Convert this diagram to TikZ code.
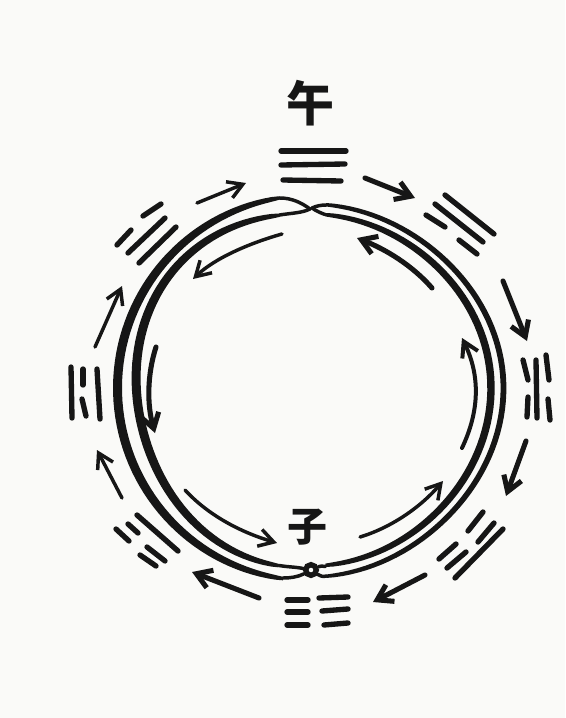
\documentclass[tikz,border=0pt]{standalone}
\usepackage{fontspec}
\newfontfamily\cjk{Noto Sans CJK SC}
\usetikzlibrary{arrows.meta}
\definecolor{ink}{RGB}{22,22,22}
\definecolor{paper}{RGB}{250,250,248}
\tikzset{
  yao/.style={draw=ink,line width=4pt,line cap=round},
  arr/.style={-{Straight Barb[length=11pt,width=13pt]},draw=ink,line width=2.6pt,line cap=round},
  arrbold/.style={-{Straight Barb[length=11pt,width=14pt]},draw=ink,line width=3.8pt,line cap=round},
  tail/.style={draw=ink,line width=2.6pt,line cap=round},
  glyph/.style={text=ink,inner sep=0pt,font=\cjk\bfseries\fontsize{#1}{#1}\selectfont},
  knot/.style={circle,draw=ink,fill=paper,line width=4pt,minimum size=8pt,inner sep=0pt},
}
% half ring round (310,388): radius in \t, from, to, swell
\newcommand{\strandarc}[4]{
  \fill[ink] plot[domain=#2:#3,samples=70,variable=\t]
      ({310+(#1+1.7+#4*sqrt(abs(sin((\t-#2)/(#3-#2)*180))))*cos(\t)},
       {388-(#1+1.7+#4*sqrt(abs(sin((\t-#2)/(#3-#2)*180))))*sin(\t)})
    -- plot[domain=#3:#2,samples=70,variable=\t]
      ({310+(#1-1.7-#4*sqrt(abs(sin((\t-#2)/(#3-#2)*180))))*cos(\t)},
       {388-(#1-1.7-#4*sqrt(abs(sin((\t-#2)/(#3-#2)*180))))*sin(\t)})
    -- cycle;
}
\begin{document}
\begin{tikzpicture}[x=0.75pt,y=-0.75pt]
  \fill[paper] (0,0) rectangle (565,718);
  \useasboundingbox (0,0) rectangle (565,718);

  % the two rings
  \strandarc{192.5}{99}{262}{2.8}
  \strandarc{(176.5+4*cos(3*(\t-135)))}{100}{260}{2.8}
  \strandarc{(188.5+3.5*cos(2*\t)+1.5*cos(4*\t)-2.5*sin(\t)*abs(sin(\t)))}{85}{-85}{1.2}
  \strandarc{(177.5+2.5*cos(2*\t)+cos(4*\t)-2*sin(\t)*abs(sin(\t)))}{85}{-85}{2}
  \coordinate (crossleft) at (310,209);
  \coordinate (crossright) at (312,208);
  \draw[tail] (280,198) .. controls (292,198) and (302,203) .. (crossleft);
  \draw[tail] (279.5,215) .. controls (292,213) and (302,213) .. (crossleft);
  \draw[tail] (326,205) .. controls (321,205) and (316,206) .. (crossright);
  \draw[tail] (325,214.5) .. controls (321,213) and (316,211) .. (crossright);
  \node[knot] (ziknot) at (311,570) {};
  \draw[tail] (283,578) .. controls (290,578) and (298,577) .. (ziknot);
  \draw[tail] (279,565.5) .. controls (288,567) and (296,567) .. (ziknot);
  \draw[tail] (326.5,576) .. controls (323,577) and (320,576) .. (ziknot);
  \draw[tail] (325.5,566.5) .. controls (322,566) and (320,566) .. (ziknot);

  % the two signs
  \node[glyph=36pt] (wu) at (310,103) {午};
  \node[glyph=30pt] (zi) at (307,527) {子};

  % eight trigrams, one stroke per entry
  \foreach \xa/\ya/\xb/\yb in {
      281/151/346/151, 281/165/345/164, 283/180/341/181,
      445/195/494/234, 435/204/483/242, 426/215/445/227, 459/240/477/254,
      523/360/528/380, 528/397/527/417, 536/360/537/418, 546/355/549/380, 548/399/550/420,
      455/578/503/529, 447/568/466/552, 478/542/494/523, 439/559/456/544, 468/531/483/512,
      287/600/308/600, 319/598/348/597, 287/612/308/612, 322/611/348/609, 287/625/308/625, 324/625/348/623,
      137/515/178/551, 128/524/138/533, 147/547/165/561, 116/529/129/541, 140/555/156/566,
      71/367/72/418, 83/369/83/385, 82/399/86/416, 97/369/100/419,
      117/245/131/230, 143/216/161/204, 128/253/165/218, 139/263/176/227}
    \draw[yao] (\xa,\ya) -- (\xb,\yb);

  % outer arrows
  \foreach \xa/\ya/\xb/\yb in {197/203/246/183, 122/498/97/450, 95/347/122/286}
    \draw[arr] (\xa,\ya) -- (\xb,\yb);
  \foreach \xa/\ya/\xb/\yb in {365/178/415/198, 503/281/527/341, 526/441/506/496, 425/575/373/602, 259/598/192/572}
    \draw[arrbold] (\xa,\ya) -- (\xb,\yb);

  % inner arrows
  \draw[arr] (282,234) .. controls (250,243) and (215,258) .. (193,279);
  \draw[arrbold] (432,288) .. controls (412,265) and (385,249) .. (357,238);
  \draw[arr,line width=3pt] (462,448) .. controls (480,410) and (480,375) .. (462,338);
  \draw[arrbold] (156,347) .. controls (147,375) and (147,405) .. (155,433);
  \draw[arr] (185,490) .. controls (208,515) and (240,532) .. (277,543);
  \draw[arr] (360,537) .. controls (390,528) and (420,508) .. (443,481);
\end{tikzpicture}
\end{document}
